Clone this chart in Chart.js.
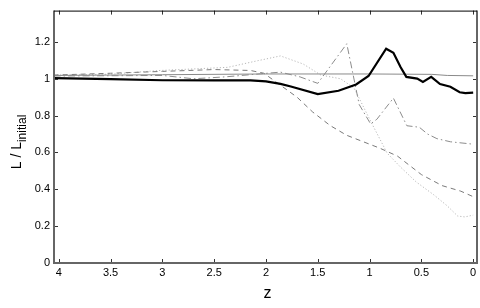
<!DOCTYPE html>
<html>
<head>
<meta charset="utf-8">
<script src="https://cdn.jsdelivr.net/npm/chart.js@4/dist/chart.umd.min.js"></script>
<style>
  html, body { margin:0; padding:0; background:#fff; }
  #wrap { width:480px; height:308px; }
</style>
</head>
<body>
<div id="wrap"><canvas id="lumChart" width="480" height="308"></canvas></div>
<script>
// ── Data ───────────────────────────────────────────────────────────────────────
const X_TICKS = [4, 3.5, 3, 2.5, 2, 1.5, 1, 0.5, 0];
const Y_TICKS = [0, 0.2, 0.4, 0.6, 0.8, 1, 1.2];

// thick black
const Z_BOLD = [4.05, 3.5, 3.0, 2.5, 2.15, 2.0, 1.86, 1.76, 1.5, 1.3, 1.13, 1.01, 0.84, 0.77, 0.70, 0.645, 0.54, 0.485, 0.405, 0.32, 0.22, 0.13, 0.075, 0];
const L_BOLD = [1.003, 0.998, 0.992, 0.991, 0.991, 0.986, 0.972, 0.958, 0.917, 0.935, 0.969, 1.015, 1.163, 1.141, 1.062, 1.01, 1.001, 0.983, 1.01, 0.971, 0.957, 0.927, 0.922, 0.925];

// thin grey reference
const Z_REF = [4.05, 3.0, 2.0, 1.0, 0.4, 0.25, 0];
const L_REF = [1.018, 1.022, 1.026, 1.026, 1.024, 1.018, 1.016];

// dashed
const Z_DASH = [4.05, 3.5, 3.0, 2.5, 2.15, 2.02, 1.86, 1.7, 1.55, 1.38, 1.22, 1.06, 0.9, 0.73, 0.5, 0.3, 0.12, 0];
const L_DASH = [1.02, 1.03, 1.04, 1.05, 1.045, 1.03, 0.965, 0.9, 0.82, 0.746, 0.693, 0.658, 0.623, 0.58, 0.48, 0.42, 0.39, 0.36];

// dash-dot
const Z_DDOT = [4.05, 3.0, 2.7, 2.4, 2.05, 1.86, 1.67, 1.5, 1.22, 1.1, 0.99, 0.93, 0.77, 0.64, 0.52, 0.44, 0.35, 0.22, 0];
const L_DDOT = [1.015, 1.018, 1.0, 1.01, 1.027, 1.036, 1.01, 0.975, 1.19, 0.86, 0.755, 0.78, 0.895, 0.745, 0.737, 0.70, 0.675, 0.658, 0.645];

// dotted
const Z_DOT = [4.05, 3.5, 3.02, 2.37, 2.08, 1.86, 1.64, 1.47, 1.28, 1.15, 0.99, 0.83, 0.7, 0.55, 0.38, 0.25, 0.15, 0.08, 0];
const L_DOT = [1.02, 1.025, 1.045, 1.062, 1.098, 1.124, 1.08, 1.02, 1.0, 0.95, 0.77, 0.596, 0.52, 0.44, 0.37, 0.31, 0.255, 0.25, 0.26];

const pts = (zs, ls) => zs.map((z, i) => ({ x: z, y: ls[i] }));
const FONT = 'Liberation Sans, Arial, Helvetica, sans-serif';

// ── Frame, inward ticks, axis labels ──────────────────────────────────────────
const framePlugin = {
  id: 'frame',
  afterDraw(chart) {
    const { ctx, chartArea: a, scales: { x, y } } = chart;
    ctx.save();
    // ticks
    ctx.strokeStyle = '#333';
    ctx.lineWidth = 1;
    ctx.beginPath();
    X_TICKS.forEach(v => {
      const px = Math.round(x.getPixelForValue(v)) + 0.5;
      ctx.moveTo(px, a.bottom); ctx.lineTo(px, a.bottom - 4);
      ctx.moveTo(px, a.top);    ctx.lineTo(px, a.top + 4);
    });
    Y_TICKS.forEach(v => {
      const py = Math.round(y.getPixelForValue(v)) + 0.5;
      ctx.moveTo(a.left, py);  ctx.lineTo(a.left + 4, py);
      ctx.moveTo(a.right, py); ctx.lineTo(a.right - 4, py);
    });
    ctx.stroke();
    // box
    ctx.strokeStyle = '#666';
    ctx.lineWidth = 2;
    ctx.beginPath();
    ctx.moveTo(a.left, a.top); ctx.lineTo(a.left, a.bottom);
    ctx.lineTo(a.right, a.bottom); ctx.lineTo(a.right, a.top);
    ctx.stroke();
    ctx.strokeStyle = '#000';
    ctx.lineWidth = 1;
    ctx.beginPath();
    ctx.moveTo(a.left, a.top + 0.5); ctx.lineTo(a.right, a.top + 0.5);
    ctx.stroke();

    // x title
    ctx.fillStyle = '#000';
    ctx.font = '16px ' + FONT;
    ctx.textAlign = 'center';
    ctx.textBaseline = 'alphabetic';
    ctx.fillText('z', (a.left + a.right) / 2 + 2, 298);

    // y title with subscript
    ctx.translate(21, 142);
    ctx.rotate(-Math.PI / 2);
    ctx.textAlign = 'left';
    ctx.font = '14px ' + FONT;
    const main = 'L / L';
    const wMain = ctx.measureText(main).width;
    ctx.font = '12px ' + FONT;
    const wSub = ctx.measureText('initial').width;
    const x0 = -(wMain + wSub) / 2;
    ctx.font = '14px ' + FONT;
    ctx.fillText(main, x0, 0);
    ctx.font = '12px ' + FONT;
    ctx.fillText('initial', x0 + wMain, 5);
    ctx.restore();
  }
};

// ── Chart ─────────────────────────────────────────────────────────────────────
const ds = (data, color, width, dash) => ({
  data, borderColor: color, borderWidth: width, borderDash: dash,
  pointRadius: 0, tension: 0, fill: false
});

new Chart(document.getElementById('lumChart').getContext('2d'), {
  type: 'line',
  data: {
    datasets: [
      ds(pts(Z_BOLD, L_BOLD), '#000', 2.2, []),
      ds(pts(Z_REF, L_REF), '#8a8a8a', 1, []),
      ds(pts(Z_DASH, L_DASH), '#7a7a7a', 1, [5, 4]),
      ds(pts(Z_DDOT, L_DDOT), '#8c8c8c', 1, [7, 3, 1.5, 3]),
      ds(pts(Z_DOT, L_DOT), '#b8b8b8', 1, [1.2, 2])
    ]
  },
  options: {
    responsive: false,
    animation: false,
    devicePixelRatio: 1,
    layout: { padding: { top: 3, right: 3, left: 0, bottom: 0 } },
    plugins: { legend: { display: false }, tooltip: { enabled: false } },
    scales: {
      x: {
        type: 'linear', reverse: true, min: -0.037, max: 4.046,
        afterBuildTicks: s => { s.ticks = X_TICKS.map(v => ({ value: v })); },
        afterFit: s => { s.height = 45; },
        grid: { display: false, drawTicks: false }, border: { display: false },
        ticks: { color: '#000', font: { size: 11, family: FONT }, padding: 3, maxRotation: 0, autoSkip: false,
                 callback: v => String(v) }
      },
      y: {
        type: 'linear', min: 0, max: 1.37,
        afterBuildTicks: s => { s.ticks = Y_TICKS.map(v => ({ value: v })); },
        afterFit: s => { s.width = 54; },
        grid: { display: false, drawTicks: false }, border: { display: false },
        ticks: { color: '#000', font: { size: 11, family: FONT }, padding: 4, autoSkip: false,
                 callback: v => String(+Number(v).toFixed(1)) }
      }
    }
  },
  plugins: [framePlugin]
});
</script>
</body>
</html>
